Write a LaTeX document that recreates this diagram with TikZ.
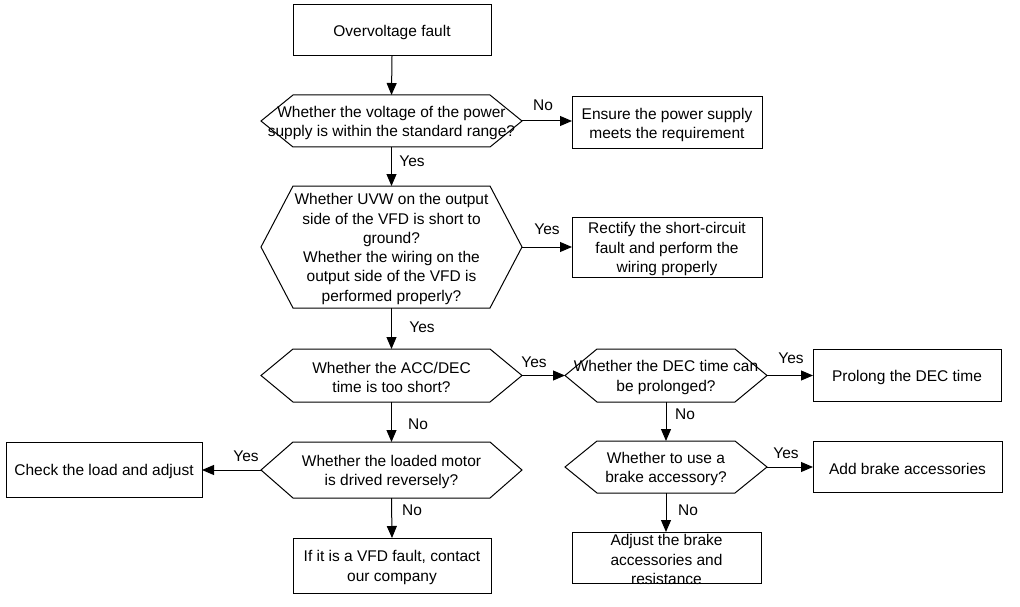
\documentclass[tikz,border=0pt]{standalone}
\usepackage{fontspec}
\setmainfont{Liberation Sans}
\usetikzlibrary{arrows.meta}
\newcommand{\fbx}[3]{\parbox[c][#2pt][c]{#1pt}{\vspace*{4pt}\centering #3}}
\tikzset{
  base/.style={inner sep=0pt, outer sep=0pt, font=\fontsize{15.5}{19.3}\selectfont},
  box/.style={base, draw, line width=1pt},
  hexline/.style={draw, line width=1pt},
  arr/.style={-{Triangle[length=12pt,width=10pt]}, line width=1pt},
  lab/.style={inner sep=0pt, font=\fontsize{15.5}{19.3}\selectfont}
}
\newcommand{\hexq}[6]{%
  \node[base] (#1) at (#2,#3) {\fbx{#4}{#5}{#6}};
  \draw[hexline] (#1.west) -- ([xshift=32pt]#1.north west) -- ([xshift=-32pt]#1.north east) -- (#1.east) -- ([xshift=-32pt]#1.south east) -- ([xshift=32pt]#1.south west) -- cycle;
}
\begin{document}
\begin{tikzpicture}[x=1pt,y=-1pt]
\useasboundingbox (0,0) rectangle (1020,607);
% boxes
\node[box] (start) at (392,30.5) {\fbx{198}{51}{Overvoltage fault}};
\node[box] (ensure) at (667,123) {\fbx{190}{52}{Ensure the power supply\\meets the requirement}};
\node[box] (rect) at (667,247) {\fbx{190}{60}{Rectify the short-circuit\\fault and perform the\\wiring properly}};
\node[box] (prolong) at (907,375) {\fbx{188}{52}{Prolong the DEC time}};
\node[box] (check) at (104,469.5) {\fbx{196}{55}{Check the load and adjust}};
\node[box] (addb) at (907.5,466.5) {\fbx{189}{51}{Add brake accessories}};
\node[box] (adjb) at (666.5,557.5) {\fbx{189}{51}{Adjust the brake\\accessories and\\resistance}};
\node[box] (vfd) at (392,565.5) {\fbx{198}{55}{If it is a VFD fault, contact\\our company}};
% decisions
\hexq{q1}{391.5}{121}{261}{52}{Whether the voltage of the power\\supply is within the standard range?}
\hexq{q2}{391.5}{247}{261}{122}{Whether UVW on the output\\side of the VFD is short to\\ground?\\Whether the wiring on the\\output side of the VFD is\\performed properly?}
\hexq{q3}{391.5}{375.5}{261}{53}{Whether the ACC/DEC\\time is too short?}
\hexq{q4}{666}{375.5}{202}{53}{Whether the DEC time can\\be prolonged?}
\hexq{q5}{391.5}{470}{261}{56}{Whether the loaded motor\\is drived reversely?}
\hexq{q6}{666}{467}{202}{52}{Whether to use a\\brake accessory?}
% connectors
\draw[arr] (start.south) -- (q1.north);
\draw[arr] (q1.east) -- (q1.east -| ensure.west);
\draw[arr] (q1.south) -- (q2.north);
\draw[arr] (q2.east) -- (q2.east -| rect.west);
\draw[arr] (q2.south) -- (q3.north);
\draw[arr] (q3.east) -- (q4.west);
\draw[arr] (q4.east) -- (q4.east -| prolong.west);
\draw[arr] (q4.south) -- (q6.north);
\draw[arr] (q6.east) -- (q6.east -| addb.west);
\draw[arr] (q6.south) -- (q6.south |- adjb.north);
\draw[arr] (q3.south) -- (q5.north);
\draw[arr] (q5.west) -- (q5.west -| check.east);
\draw[arr] (q5.south) -- (vfd.north);
% labels
\node[lab] (l1) at (543,105) {No};
\node[lab] (l2) at (412,161) {Yes};
\node[lab] (l3) at (547,229) {Yes};
\node[lab] (l4) at (422,327) {Yes};
\node[lab] (l5) at (534,362) {Yes};
\node[lab] (l6) at (791,358) {Yes};
\node[lab] (l7) at (685,414) {No};
\node[lab] (l8) at (418,424) {No};
\node[lab] (l9) at (246,456) {Yes};
\node[lab] (l10) at (786,453) {Yes};
\node[lab] (l11) at (412,510) {No};
\node[lab] (l12) at (688,510) {No};
\end{tikzpicture}
\end{document}
